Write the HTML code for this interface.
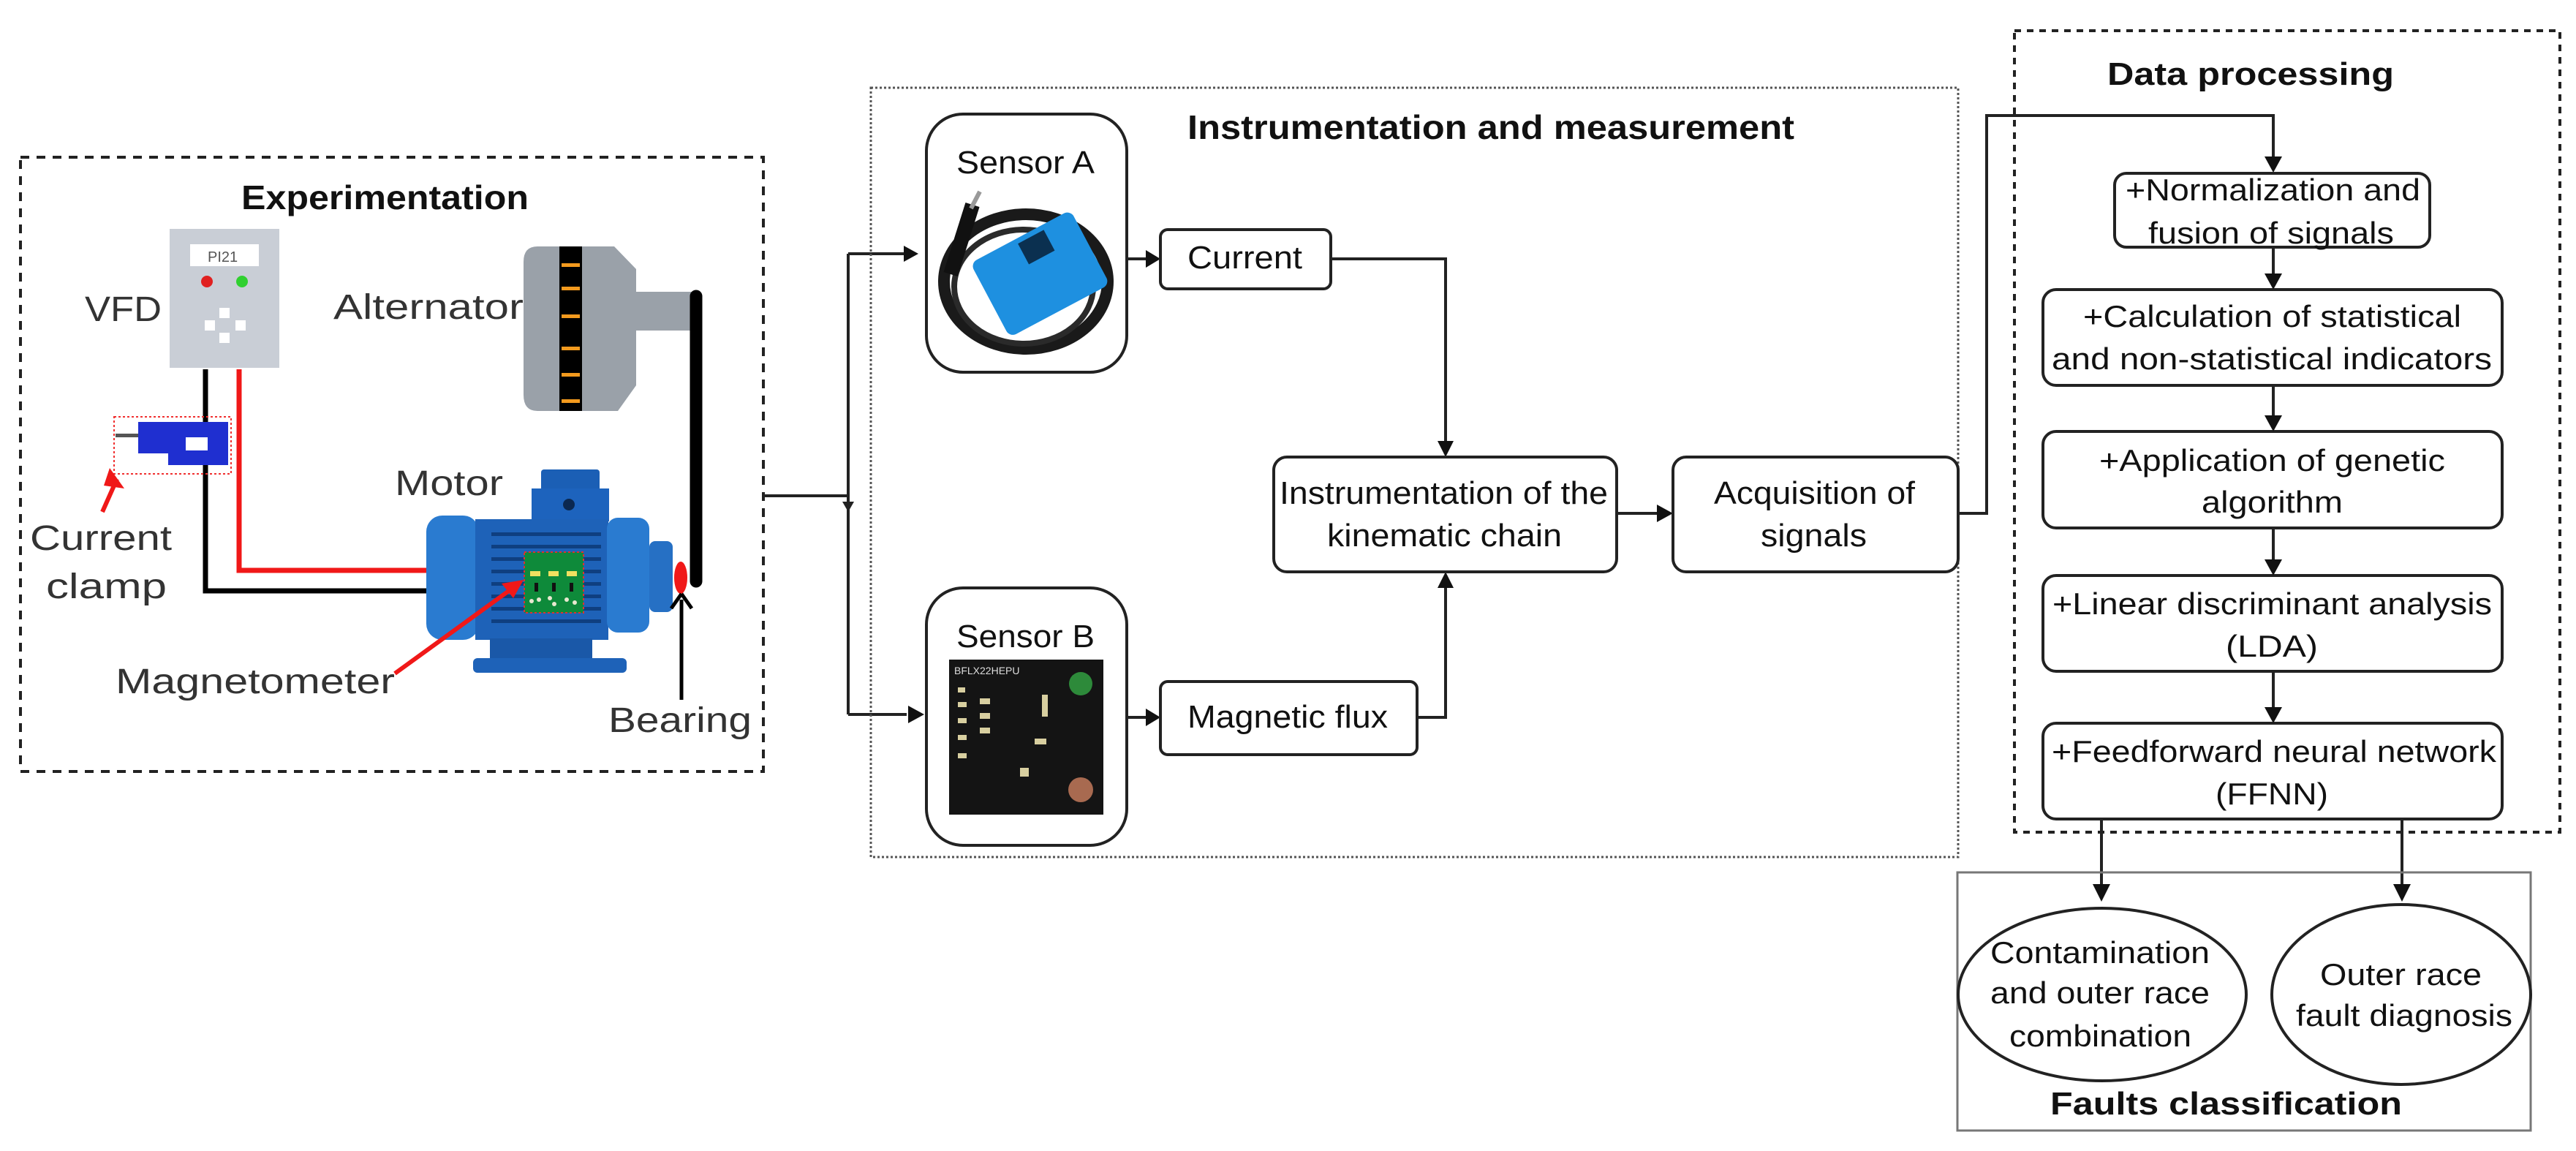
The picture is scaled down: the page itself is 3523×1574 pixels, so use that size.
<!DOCTYPE html>
<html><head><meta charset="utf-8"><style>
html,body{margin:0;padding:0;background:#fff;}
svg{display:block;}
text{font-family:"Liberation Sans",sans-serif;fill:#111;}
</style></head><body>
<svg width="3523" height="1574" viewBox="0 0 3523 1574" xmlns="http://www.w3.org/2000/svg">
<defs>
<marker id="ah" markerWidth="10" markerHeight="10" refX="9" refY="5" orient="auto" markerUnits="userSpaceOnUse" viewBox="0 0 10 10">
</marker>
</defs>
<rect width="3523" height="1574" fill="#fff"/>

<!-- ===== Experimentation ===== -->
<rect x="28" y="215" width="1016" height="840" fill="none" stroke="#222" stroke-width="4" stroke-dasharray="12,10"/>
<text x="330" y="286" font-size="46" font-weight="bold" textLength="393" lengthAdjust="spacingAndGlyphs">Experimentation</text>

<!-- VFD -->
<rect x="232" y="313" width="150" height="190" fill="#c9ced6"/>
<rect x="260" y="334" width="94" height="30" fill="#fff"/>
<text x="284" y="358" font-size="20" fill="#555" style="fill:#555">PI21</text>
<circle cx="283" cy="385" r="8" fill="#e02020"/>
<circle cx="331" cy="385" r="8" fill="#30d030"/>
<rect x="300" y="421" width="14" height="14" fill="#fff"/>
<rect x="280" y="438" width="14" height="14" fill="#fff"/>
<rect x="322" y="438" width="14" height="14" fill="#fff"/>
<rect x="300" y="455" width="14" height="14" fill="#fff"/>
<text x="116" y="439" font-size="48" textLength="105" lengthAdjust="spacingAndGlyphs" style="fill:#333">VFD</text>

<!-- Alternator -->
<path d="M735 337 H840 L870 368 V527 L845 562 H735 Q716 562 716 540 V358 Q716 337 735 337Z" fill="#9aa1a9"/>
<rect x="870" y="399" width="80" height="53" fill="#9aa1a9"/>
<rect x="765" y="337" width="31" height="225" fill="#000"/>
<g fill="#f39a1e">
<rect x="768" y="360" width="25" height="5"/><rect x="768" y="392" width="25" height="5"/>
<rect x="768" y="430" width="25" height="5"/><rect x="768" y="474" width="25" height="5"/>
<rect x="768" y="510" width="25" height="5"/><rect x="768" y="546" width="25" height="5"/>
</g>
<text x="456" y="436" font-size="48" textLength="260" lengthAdjust="spacingAndGlyphs" style="fill:#333">Alternator</text>
<!-- belt -->
<path d="M952 405 V795" stroke="#000" stroke-width="17" stroke-linecap="round"/>

<!-- wires -->
<path d="M281 505 V808 H585" fill="none" stroke="#000" stroke-width="7"/>
<path d="M327 505 V780 H585" fill="none" stroke="#f01818" stroke-width="7"/>

<!-- current clamp -->
<rect x="156" y="570" width="160" height="78" fill="none" stroke="#f03030" stroke-width="2" stroke-dasharray="3,3"/>
<rect x="158" y="593" width="32" height="5" fill="#555"/>
<path d="M189 577 H312 V636 H230 V620 H189Z" fill="#1f2fd0"/>
<rect x="254" y="598" width="30" height="18" fill="#fff"/>
<line x1="160" y1="655" x2="140" y2="700" stroke="#f01818" stroke-width="6"/>
<path d="M150 640 L170 668 L142 664Z" fill="#f01818"/>
<text x="41" y="752" font-size="48" textLength="194" lengthAdjust="spacingAndGlyphs" style="fill:#333">Current</text>
<text x="63" y="818" font-size="48" textLength="165" lengthAdjust="spacingAndGlyphs" style="fill:#333">clamp</text>

<!-- Motor -->
<text x="540" y="677" font-size="48" textLength="148" lengthAdjust="spacingAndGlyphs" style="fill:#333">Motor</text>
<rect x="740" y="642" width="80" height="35" rx="4" fill="#1b5fb5"/>
<rect x="727" y="668" width="106" height="45" fill="#1d63bd"/>
<circle cx="778" cy="690" r="8" fill="#0b2850"/>
<rect x="583" y="705" width="72" height="170" rx="22" fill="#2a7bd0"/>
<rect x="650" y="710" width="182" height="165" fill="#1e62b8"/>
<g fill="#0f3f80">
<rect x="672" y="728" width="150" height="5"/><rect x="672" y="745" width="150" height="5"/>
<rect x="672" y="762" width="150" height="5"/><rect x="672" y="779" width="150" height="5"/>
<rect x="672" y="796" width="150" height="5"/><rect x="672" y="813" width="150" height="5"/>
<rect x="672" y="830" width="150" height="5"/><rect x="672" y="847" width="150" height="5"/>
</g>
<rect x="830" y="708" width="58" height="157" rx="15" fill="#2a7bd0"/>
<rect x="888" y="740" width="32" height="97" rx="8" fill="#2670c4"/>
<rect x="670" y="873" width="140" height="30" fill="#1a58a8"/>
<rect x="647" y="900" width="210" height="20" rx="6" fill="#1e62b8"/>
<rect x="717" y="755" width="81" height="83" fill="#0e8a3a" stroke="#e03030" stroke-width="2" stroke-dasharray="3,3"/>
<g fill="#f0e060"><rect x="725" y="781" width="14" height="7"/><rect x="750" y="781" width="14" height="7"/><rect x="775" y="781" width="14" height="7"/></g>
<g fill="#111"><rect x="731" y="797" width="5" height="12"/><rect x="755" y="797" width="5" height="12"/><rect x="779" y="797" width="5" height="12"/></g>
<g fill="#e8e8d0"><circle cx="727" cy="822" r="3"/><circle cx="737" cy="820" r="3"/><circle cx="752" cy="818" r="3"/><circle cx="758" cy="826" r="3"/><circle cx="775" cy="820" r="3"/><circle cx="786" cy="824" r="3"/></g>
<!-- magnetometer arrow -->
<line x1="540" y1="921" x2="700" y2="805" stroke="#f01818" stroke-width="6"/>
<path d="M716 793 L686 798 L702 818Z" fill="#f01818"/>
<text x="158" y="948" font-size="48" textLength="382" lengthAdjust="spacingAndGlyphs" style="fill:#333">Magnetometer</text>
<!-- bearing -->
<ellipse cx="931" cy="790" rx="9" ry="22" fill="#f01818"/>
<line x1="932" y1="957" x2="932" y2="820" stroke="#000" stroke-width="5"/>
<path d="M932 812 L918 832 M932 812 L946 832" stroke="#000" stroke-width="5" fill="none"/>
<text x="832" y="1001" font-size="48" textLength="196" lengthAdjust="spacingAndGlyphs" style="fill:#333">Bearing</text>

<!-- connector from experimentation -->
<path d="M1044 678 H1160" fill="none" stroke="#222" stroke-width="4"/>
<path d="M1160 347 V977" fill="none" stroke="#222" stroke-width="4"/>
<path d="M1160 700 l-8 -14 h16Z" fill="#222"/>
<path d="M1160 347 H1240" fill="none" stroke="#222" stroke-width="4"/>
<path d="M1256 347 l-20 -11 v22Z" fill="#111"/>
<path d="M1160 977 H1240" fill="none" stroke="#222" stroke-width="4"/>
<path d="M1264 977 l-22 -12 v24Z" fill="#111"/>

<!-- ===== Instrumentation ===== -->
<rect x="1191" y="120" width="1487" height="1052" fill="none" stroke="#555" stroke-width="3" stroke-dasharray="3,3"/>
<text x="1624" y="190" font-size="46" font-weight="bold" textLength="830" lengthAdjust="spacingAndGlyphs">Instrumentation and measurement</text>

<rect x="1267" y="156" width="274" height="353" rx="50" fill="#fff" stroke="#222" stroke-width="4"/>
<text x="1308" y="237" font-size="44" textLength="189" lengthAdjust="spacingAndGlyphs">Sensor A</text>
<!-- sensor A image -->
<ellipse cx="1403" cy="385" rx="112" ry="92" fill="none" stroke="#1a1a1a" stroke-width="16"/>
<ellipse cx="1400" cy="392" rx="95" ry="78" fill="none" stroke="#2a2a2a" stroke-width="8"/>
<path d="M1300 375 L1330 280" stroke="#111" stroke-width="20"/>
<path d="M1328 285 L1340 262" stroke="#999" stroke-width="6"/>
<g transform="rotate(-28 1420 375)">
<rect x="1345" y="318" width="155" height="115" rx="10" fill="#1e90e0"/>
<rect x="1415" y="325" width="40" height="32" fill="#0b3050"/>
</g>

<rect x="1267" y="804" width="274" height="352" rx="50" fill="#fff" stroke="#222" stroke-width="4"/>
<text x="1308" y="885" font-size="44" textLength="189" lengthAdjust="spacingAndGlyphs">Sensor B</text>
<rect x="1298" y="902" width="211" height="212" fill="#141414"/>
<circle cx="1478" cy="935" r="16" fill="#2d8a3a"/>
<circle cx="1478" cy="1080" r="17" fill="#a86a50"/>
<g fill="#d8cfa0">
<rect x="1310" y="940" width="10" height="7"/><rect x="1310" y="960" width="12" height="7"/><rect x="1310" y="982" width="12" height="7"/><rect x="1310" y="1005" width="12" height="7"/><rect x="1310" y="1030" width="12" height="7"/>
<rect x="1340" y="955" width="14" height="8"/><rect x="1340" y="975" width="14" height="8"/><rect x="1340" y="995" width="14" height="8"/>
<rect x="1425" y="950" width="8" height="30"/><rect x="1415" y="1010" width="16" height="8"/><rect x="1395" y="1050" width="12" height="12"/>
</g>
<text x="1305" y="922" font-size="14" style="fill:#ddd">BFLX22HEPU</text>

<!-- Current -->
<path d="M1541 354 H1570" stroke="#222" stroke-width="4"/>
<path d="M1587 354 l-20 -12 v24Z" fill="#111"/>
<rect x="1587" y="314" width="233" height="81" rx="10" fill="#fff" stroke="#222" stroke-width="4"/>
<text x="1624" y="367" font-size="44" textLength="157" lengthAdjust="spacingAndGlyphs">Current</text>
<path d="M1820 354 H1977 V605" fill="none" stroke="#222" stroke-width="4"/>
<path d="M1977 625 l-11 -22 h22Z" fill="#111"/>

<!-- Magnetic flux -->
<path d="M1541 981 H1570" stroke="#222" stroke-width="4"/>
<path d="M1587 981 l-20 -12 v24Z" fill="#111"/>
<rect x="1587" y="932" width="351" height="100" rx="10" fill="#fff" stroke="#222" stroke-width="4"/>
<text x="1624" y="995" font-size="44" textLength="274" lengthAdjust="spacingAndGlyphs">Magnetic flux</text>
<path d="M1938 981 H1977 V802" fill="none" stroke="#222" stroke-width="4"/>
<path d="M1977 782 l-11 22 h22Z" fill="#111"/>

<!-- Kinematic -->
<rect x="1742" y="625" width="469" height="157" rx="18" fill="#fff" stroke="#222" stroke-width="4"/>
<text x="1750" y="689" font-size="44" textLength="449" lengthAdjust="spacingAndGlyphs">Instrumentation of the</text>
<text x="1815" y="747" font-size="44" textLength="321" lengthAdjust="spacingAndGlyphs">kinematic chain</text>
<path d="M2211 702 H2268" stroke="#222" stroke-width="4"/>
<path d="M2288 702 l-22 -12 v24Z" fill="#111"/>

<!-- Acquisition -->
<rect x="2288" y="625" width="390" height="157" rx="18" fill="#fff" stroke="#222" stroke-width="4"/>
<text x="2344" y="689" font-size="44" textLength="275" lengthAdjust="spacingAndGlyphs">Acquisition of</text>
<text x="2408" y="747" font-size="44" textLength="145" lengthAdjust="spacingAndGlyphs">signals</text>
<path d="M2678 702 H2717 V158 H3109 V215" fill="none" stroke="#222" stroke-width="4"/>
<path d="M3109 236 l-12 -22 h24Z" fill="#111"/>

<!-- ===== Data processing ===== -->
<rect x="2755" y="42" width="746" height="1096" fill="none" stroke="#222" stroke-width="4" stroke-dasharray="9,8"/>
<text x="2882" y="116" font-size="44" font-weight="bold" textLength="392" lengthAdjust="spacingAndGlyphs">Data processing</text>

<g font-size="42">
<rect x="2892" y="237" width="431" height="101" rx="16" fill="#fff" stroke="#222" stroke-width="4"/>
<text x="2907" y="274" textLength="403" lengthAdjust="spacingAndGlyphs">+Normalization and</text>
<text x="2938" y="333" textLength="336" lengthAdjust="spacingAndGlyphs">fusion of signals</text>

<rect x="2794" y="396" width="628" height="131" rx="18" fill="#fff" stroke="#222" stroke-width="4"/>
<text x="2849" y="447" textLength="517" lengthAdjust="spacingAndGlyphs">+Calculation of statistical</text>
<text x="2806" y="505" textLength="602" lengthAdjust="spacingAndGlyphs">and  non-statistical indicators</text>

<rect x="2794" y="590" width="628" height="132" rx="18" fill="#fff" stroke="#222" stroke-width="4"/>
<text x="2871" y="644" textLength="473" lengthAdjust="spacingAndGlyphs">+Application of genetic</text>
<text x="3011" y="701" textLength="193" lengthAdjust="spacingAndGlyphs">algorithm</text>

<rect x="2794" y="787" width="628" height="131" rx="18" fill="#fff" stroke="#222" stroke-width="4"/>
<text x="2807" y="840" textLength="601" lengthAdjust="spacingAndGlyphs">+Linear discriminant analysis</text>
<text x="3044" y="898" textLength="126" lengthAdjust="spacingAndGlyphs">(LDA)</text>

<rect x="2794" y="989" width="628" height="131" rx="18" fill="#fff" stroke="#222" stroke-width="4"/>
<text x="2806" y="1042" textLength="608" lengthAdjust="spacingAndGlyphs">+Feedforward neural network</text>
<text x="3030" y="1100" textLength="154" lengthAdjust="spacingAndGlyphs">(FFNN)</text>
</g>
<g stroke="#222" stroke-width="4">
<line x1="3109" y1="338" x2="3109" y2="378"/>
<line x1="3109" y1="527" x2="3109" y2="572"/>
<line x1="3109" y1="722" x2="3109" y2="769"/>
<line x1="3109" y1="918" x2="3109" y2="971"/>
<line x1="2874" y1="1120" x2="2874" y2="1212"/>
<line x1="3285" y1="1120" x2="3285" y2="1212"/>
</g>
<g fill="#111">
<path d="M3109 396 l-12 -22 h24Z"/>
<path d="M3109 590 l-12 -22 h24Z"/>
<path d="M3109 787 l-12 -22 h24Z"/>
<path d="M3109 989 l-12 -22 h24Z"/>
<path d="M2874 1233 l-12 -24 h24Z"/>
<path d="M3285 1233 l-12 -24 h24Z"/>
</g>

<!-- Faults classification -->
<rect x="2677" y="1193" width="784" height="353" fill="none" stroke="#777" stroke-width="3"/>
<ellipse cx="2875" cy="1360" rx="197" ry="118" fill="#fff" stroke="#222" stroke-width="4"/>
<ellipse cx="3284" cy="1360" rx="177" ry="123" fill="#fff" stroke="#222" stroke-width="4"/>
<g font-size="42">
<text x="2722" y="1317" textLength="300" lengthAdjust="spacingAndGlyphs">Contamination</text>
<text x="2722" y="1372" textLength="300" lengthAdjust="spacingAndGlyphs">and outer race</text>
<text x="2748" y="1431" textLength="249" lengthAdjust="spacingAndGlyphs">combination</text>
<text x="3173" y="1347" textLength="221" lengthAdjust="spacingAndGlyphs">Outer race</text>
<text x="3140" y="1403" textLength="296" lengthAdjust="spacingAndGlyphs">fault diagnosis</text>
</g>
<text x="2804" y="1524" font-size="44" font-weight="bold" textLength="481" lengthAdjust="spacingAndGlyphs">Faults classification</text>
</svg>
</body></html>
